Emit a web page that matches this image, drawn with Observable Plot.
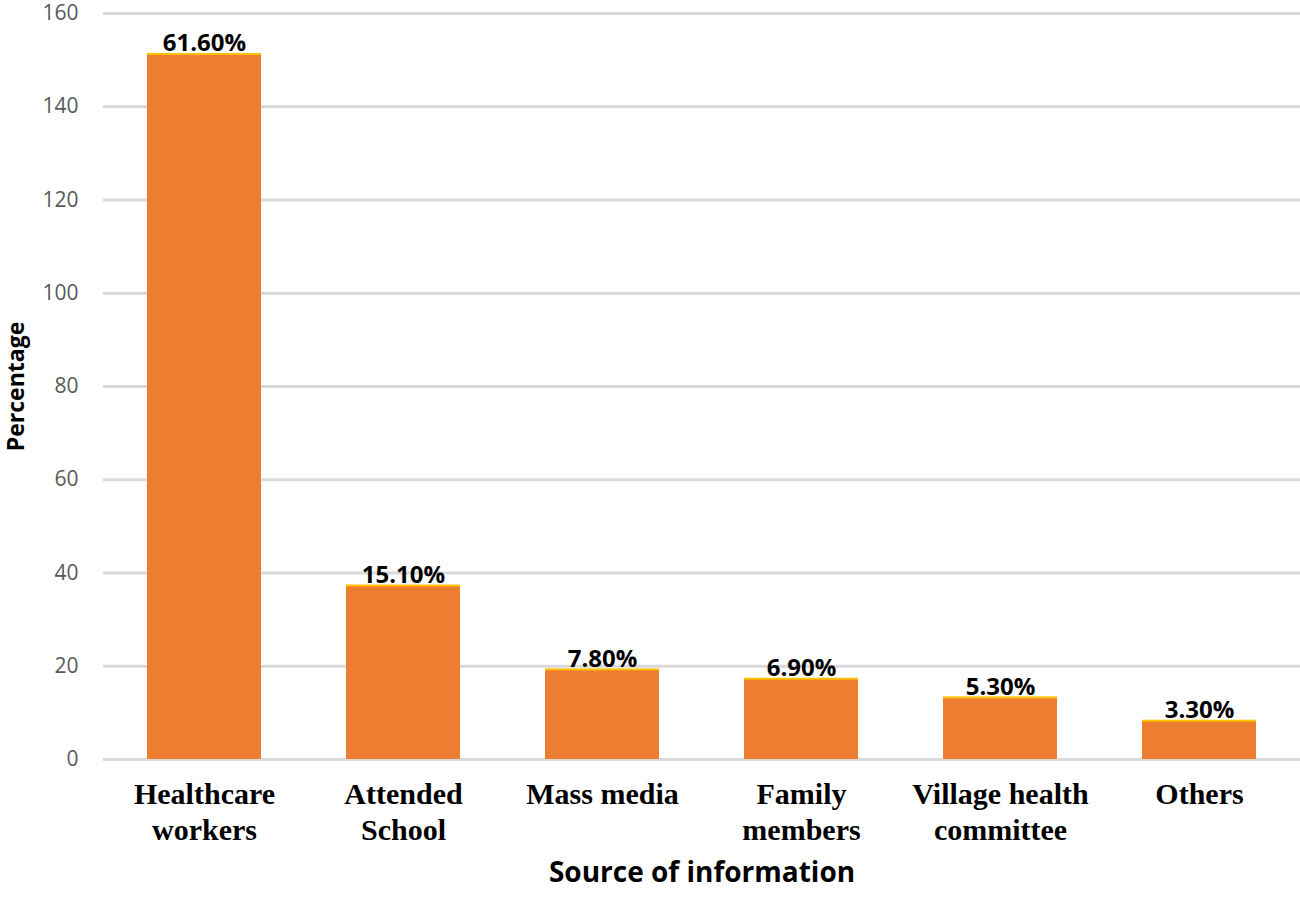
<!DOCTYPE html>
<html>
<head>
<meta charset="utf-8">
<script src="https://cdn.jsdelivr.net/npm/d3@7"></script>
<script src="https://cdn.jsdelivr.net/npm/@observablehq/plot@0.6"></script>
<style>
  html, body { margin: 0; padding: 0; background: #fff; }
  svg { overflow: visible; }
</style>
</head>
<body>
<div id="chart"></div>
<script>
const categories = ["Healthcare workers", "Attended School", "Mass media", "Family members", "Village health committee", "Others"];
const tickLabels = ["Healthcare\nworkers", "Attended\nSchool", "Mass media", "Family\nmembers", "Village health\ncommittee", "Others"];
const counts = [151, 37, 19, 17, 13, 8];
const percentLabels = ["61.60%", "15.10%", "7.80%", "6.90%", "5.30%", "3.30%"];
const yTicks = [0, 20, 40, 60, 80, 100, 120, 140, 160];

const data = categories.map((c, i) => ({category: c, value: counts[i], label: percentLabels[i], tick: tickLabels[i]}));
const tickMap = new Map(data.map(d => [d.category, d.tick]));

const chart = Plot.plot({
  width: 1300,
  height: 897,
  marginTop: 13,
  marginBottom: 138,
  marginLeft: 103,
  marginRight: 0,
  style: {fontFamily: "Open Sans", background: "#fff"},
  x: {domain: categories, paddingInner: 0.427, paddingOuter: 0.218},
  y: {domain: [0, 160]},
  marks: [
    Plot.ruleY(yTicks, {stroke: "#d9d9d9", strokeWidth: 3}),
    Plot.barY(data, {x: "category", y: "value", fill: "#FFC000", insetTop: -2}),
    Plot.barY(data, {x: "category", y: "value", fill: "#ED7D31"}),
    Plot.text(data, {x: "category", y: "value", text: "label", lineAnchor: "bottom", dy: -4, fontSize: 24, fontWeight: "bold", fill: "#000"}),
    Plot.axisY({ticks: yTicks, tickSize: 0, tickPadding: 25, fontSize: 21, fill: "#595959", label: null}),
    Plot.axisX({tickSize: 0, tickPadding: 20, fontSize: 30, fontFamily: "Liberation Serif", fontWeight: "bold", fill: "#000", lineHeight: 1.17, tickFormat: d => tickMap.get(d), label: null}),
    Plot.text(["Percentage"], {frameAnchor: "left", textAnchor: "middle", lineAnchor: "middle", rotate: -90, dx: -87, fontSize: 23, fontWeight: "bold", fill: "#000"}),
    Plot.text(["Source of information"], {frameAnchor: "bottom", textAnchor: "middle", lineAnchor: "middle", dy: 114, fontSize: 28, fontWeight: "bold", fill: "#000"})
  ]
});
document.getElementById("chart").appendChild(chart);
</script>
</body>
</html>
